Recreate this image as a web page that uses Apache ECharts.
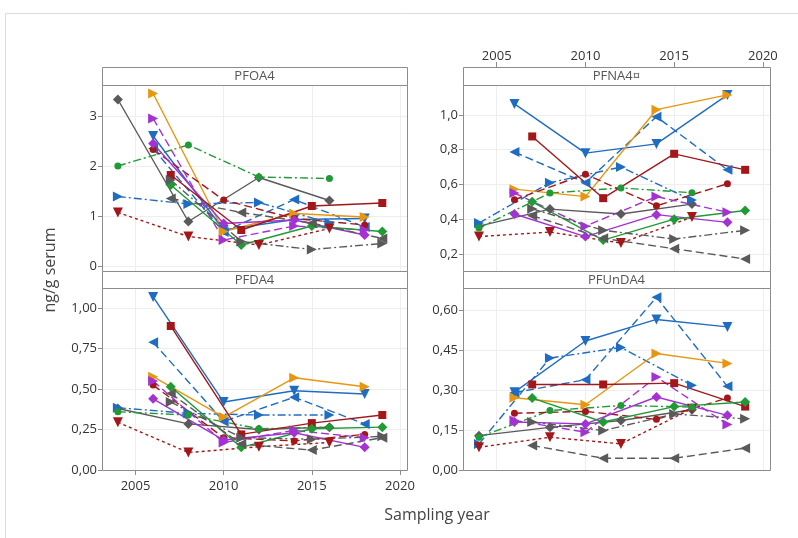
<!DOCTYPE html>
<html><head><meta charset="utf-8">
<script src="https://cdn.jsdelivr.net/npm/echarts@6/dist/echarts.min.js"></script>
<style>html,body{margin:0;padding:0;background:#fff}#c{width:798px;height:538px}</style>
</head><body><div id="c"></div>
<script>
// ---------------- data ----------------
const panelNames = ['PFOA4', 'PFNA4\u00a4', 'PFDA4', 'PFUnDA4'];
const yearsA = [2004, 2008, 2012, 2016];
const yearsB = [2006, 2010, 2014, 2018];
const yearsC = [2007, 2011, 2015, 2019];
const xTickLabels = [2005, 2010, 2015, 2020];
const seriesNames = ['grayDiamond', 'blueRight', 'redDown', 'greenCircle',
  'blueDown', 'blueLeft', 'orangeRight', 'redCircle', 'purpleRight', 'purpleDiamond',
  'redSquare', 'greenDiamond', 'grayRight', 'grayLeft'];
const seriesYears = [yearsA, yearsA, yearsA, yearsA,
  yearsB, yearsB, yearsB, yearsB, yearsB, yearsB,
  yearsC, yearsC, yearsC, yearsC];

const PFOA4 = [
  [3.33, 0.89, 1.77, 1.31],
  [1.39, 1.24, 1.27, 0.86],
  [1.07, 0.59, 0.42, 0.75],
  [2.00, 2.42, 1.78, 1.75],
  [2.60, 0.72, 0.93, 0.95],
  [2.35, 0.68, 1.33, 0.78],
  [3.45, 0.69, 1.05, 0.98],
  [2.33, 1.32, 0.95, 0.82],
  [2.95, 0.52, 0.80, 0.72],
  [2.45, 0.85, 0.92, 0.62],
  [1.82, 0.72, 1.20, 1.26],
  [1.62, 0.42, 0.80, 0.69],
  [1.72, 0.49, 0.33, 0.45],
  [1.35, 1.07, 0.86, 0.55]
];
const PFNA4 = [
  [0.36, 0.458, 0.43, 0.487],
  [0.378, 0.61, 0.70, 0.51],
  [0.30, 0.326, 0.263, 0.412],
  [0.35, 0.55, 0.58, 0.552],
  [1.063, 0.78, 0.833, 1.115],
  [0.786, 0.61, 0.99, 0.684],
  [0.573, 0.53, 1.03, 1.115],
  [0.512, 0.659, 0.477, 0.604],
  [0.55, 0.36, 0.53, 0.44],
  [0.43, 0.30, 0.426, 0.382],
  [0.876, 0.521, 0.776, 0.684],
  [0.50, 0.28, 0.40, 0.45],
  [0.46, 0.336, 0.286, 0.336],
  [0.42, 0.29, 0.23, 0.171]
];
const PFDA4 = [
  [0.38, 0.285, 0.25, 0.265],
  [0.385, 0.35, 0.34, 0.34],
  [0.295, 0.108, 0.144, 0.17],
  [0.36, 0.34, 0.255, 0.265],
  [1.07, 0.42, 0.49, 0.47],
  [0.79, 0.30, 0.45, 0.285],
  [0.577, 0.327, 0.57, 0.515],
  [0.525, 0.20, 0.18, 0.22],
  [0.55, 0.17, 0.245, 0.20],
  [0.44, 0.185, 0.23, 0.14],
  [0.89, 0.22, 0.29, 0.34],
  [0.515, 0.14, 0.255, 0.265],
  [0.42, 0.20, 0.19, 0.208],
  [0.473, 0.16, 0.123, 0.20]
];
const PFUnDA4 = [
  [0.129, 0.16, 0.186, 0.226],
  [0.098, 0.42, 0.46, 0.318],
  [0.085, 0.123, 0.098, 0.23],
  [0.123, 0.223, 0.242, 0.236],
  [0.292, 0.484, 0.565, 0.537],
  [0.29, 0.339, 0.648, 0.314],
  [0.271, 0.245, 0.437, 0.40],
  [0.213, 0.22, 0.19, 0.27],
  [0.186, 0.142, 0.349, 0.171],
  [0.18, 0.173, 0.274, 0.205],
  [0.321, 0.321, 0.326, 0.238],
  [0.27, 0.18, 0.238, 0.255],
  [0.18, 0.148, 0.21, 0.192],
  [0.092, 0.044, 0.044, 0.082]
];
const panelValues = [PFOA4, PFNA4, PFDA4, PFUnDA4];

// ---------------- styles ----------------
const C = {gray:'#5a5a5a', blue:'#1f6cc1', green:'#1f9a35', red:'#a3171b', orange:'#e8960f', purple:'#a432d2'};
const DASH = {solid:'solid', dashed:[8,4], dashdot:[8,3,2,3], short:[3,3]};
const styles = [
  {c:C.gray, s:'diamond', r:0, z:10, d:DASH.solid},
  {c:C.blue, s:'triangle', r:-90, z:10, d:DASH.dashdot},
  {c:C.red, s:'triangle', r:180, z:10, d:DASH.short},
  {c:C.green, s:'circle', r:0, z:7, d:DASH.dashdot},
  {c:C.blue, s:'triangle', r:180, z:10, d:DASH.solid},
  {c:C.blue, s:'triangle', r:90, z:10, d:DASH.dashed},
  {c:C.orange, s:'triangle', r:-90, z:10, d:DASH.solid},
  {c:C.red, s:'circle', r:0, z:7, d:DASH.dashed},
  {c:C.purple, s:'triangle', r:-90, z:10, d:DASH.dashed},
  {c:C.purple, s:'diamond', r:0, z:10, d:DASH.solid},
  {c:C.red, s:'rect', r:0, z:8, d:DASH.solid},
  {c:C.green, s:'diamond', r:0, z:10, d:DASH.solid},
  {c:C.gray, s:'triangle', r:-90, z:10, d:DASH.dashdot},
  {c:C.gray, s:'triangle', r:90, z:10, d:DASH.dashed}
];

const FONT = '"Open Sans", "Noto Sans", sans-serif';
const BORDER = '#8c8c8c';
const grids = [
  {left:102, top:85, width:305, height:186},
  {left:463, top:85, width:307, height:186},
  {left:102, top:288, width:305, height:182},
  {left:463, top:288, width:307, height:182}
];
const yCfg = [
  {min:-0.1, max:3.62, splitNumber:4, dec:0, showMin:false},
  {min:0.102, max:1.172, splitNumber:5, dec:1, showMin:false},
  {min:0, max:1.125, interval:0.25, dec:2, showMin:true},
  {min:0, max:0.683, interval:0.15, dec:2, showMin:true}
];
const xShow = [
  {labels:false},
  {labels:true, position:'top', offset:18, margin:4},
  {labels:true, position:'bottom', offset:0, margin:10},
  {labels:false}
];

const xAxes = grids.map((g, i) => ({
  type:'value', gridIndex:i, min:2003.1, max:2020.4, splitNumber:4,
  position: xShow[i].position || 'bottom', offset: xShow[i].offset || 0,
  axisLine:{show:false},
  axisTick:{show:xShow[i].labels, length:5, lineStyle:{color:BORDER}},
  axisLabel:{show:xShow[i].labels, margin:xShow[i].margin || 8, showMinLabel:false, showMaxLabel:false,
    color:'#333', fontSize:13, fontFamily:FONT, formatter: v => String(Math.round(v))},
  splitLine:{show:true, lineStyle:{color:'#eeeeee', width:1}}
}));
const yAxes = grids.map((g, i) => {
  const y = yCfg[i];
  const ax = {
    type:'value', gridIndex:i, min:y.min, max:y.max,
    axisLine:{show:false},
    axisTick:{show:true, length:4, lineStyle:{color:BORDER}},
    axisLabel:{margin:5, showMinLabel:y.showMin, showMaxLabel:false, color:'#333', fontSize:13, fontFamily:FONT,
      formatter: v => v.toFixed(y.dec).replace('.', ',')},
    splitLine:{show:true, lineStyle:{color:'#eeeeee', width:1}}
  };
  if (y.interval) ax.interval = y.interval; else ax.splitNumber = y.splitNumber;
  return ax;
});

const series = [];
panelValues.forEach((vals, p) => {
  vals.forEach((row, k) => {
    const st = styles[k];
    series.push({
      name: seriesNames[k], type:'line', xAxisIndex:p, yAxisIndex:p,
      data: seriesYears[k].map((yr, j) => [yr, row[j]]),
      symbol: st.s, symbolSize: st.z, symbolRotate: st.r, showAllSymbol:true,
      itemStyle:{color: st.c},
      lineStyle:{color: st.c, width:1.4, type: st.d},
      emphasis:{disabled:true}, silent:true, z: 3
    });
  });
});

const graphic = [
  {type:'rect', shape:{x:5.5, y:13.5, width:820, height:560}, style:{fill:'none', stroke:'#dcdcdc', lineWidth:1}, z:1, silent:true}
];
const headerTop = [67, 67, 271, 271];
grids.forEach((g, i) => {
  const ht = headerTop[i];
  graphic.push({type:'rect', shape:{x:g.left + 0.5, y:ht + 0.5, width:g.width, height:g.top - ht}, style:{fill:'#ffffff', stroke:BORDER, lineWidth:1}, z:50, silent:true});
  graphic.push({type:'rect', shape:{x:g.left + 0.5, y:g.top + 0.5, width:g.width, height:g.height}, style:{fill:'none', stroke:BORDER, lineWidth:1}, z:50, silent:true});
  graphic.push({type:'text', x:g.left + g.width / 2, y:(ht + g.top) / 2 + 0.5, style:{text:panelNames[i], fill:'#555', font:'13px ' + FONT, textAlign:'center', textVerticalAlign:'middle'}, z:60, silent:true});
});
graphic.push({type:'text', x:50, y:270, rotation:Math.PI / 2, style:{text:'ng/g serum', fill:'#444', font:'16px ' + FONT, textAlign:'center', textVerticalAlign:'middle'}, z:60, silent:true});
graphic.push({type:'text', x:437, y:515, style:{text:'Sampling year', fill:'#444', font:'16px ' + FONT, textAlign:'center', textVerticalAlign:'middle'}, z:60, silent:true});

const chart = echarts.init(document.getElementById('c'), null, {renderer:'canvas'});
chart.setOption({
  animation:false,
  backgroundColor:'#ffffff',
  grid: grids.map(g => Object.assign({containLabel:false, show:false}, g)),
  xAxis: xAxes, yAxis: yAxes, series: series, graphic: graphic
});
</script></body></html>
